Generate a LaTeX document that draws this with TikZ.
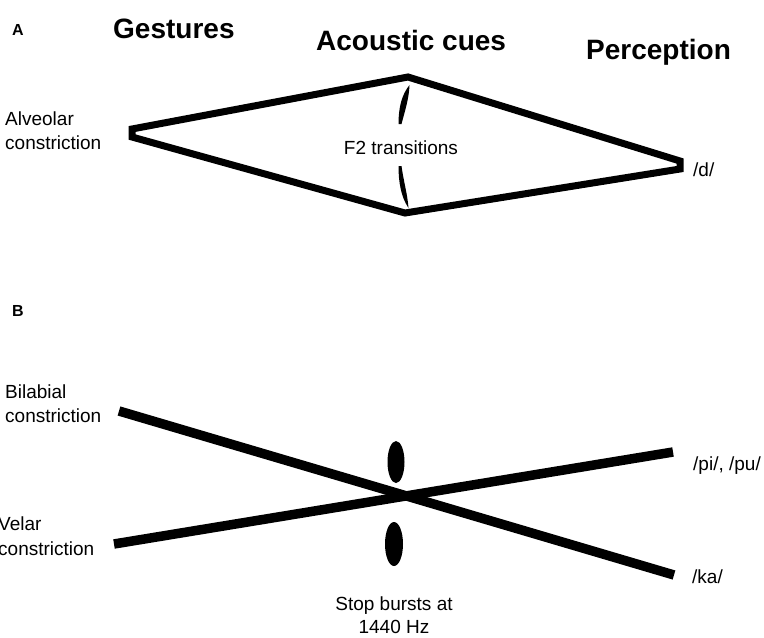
\documentclass[tikz,border=0pt]{standalone}
\usepackage{fontspec}
\setmainfont{Liberation Sans}
\begin{document}
\begin{tikzpicture}[x=1pt,y=-1pt,
  head/.style={font=\fontsize{28}{30}\selectfont\bfseries, anchor=base west, inner sep=0pt},
  panel/.style={font=\fontsize{16}{18}\selectfont\bfseries, anchor=base west, inner sep=0pt},
  lbl/.style={font=\fontsize{19}{24}\selectfont, anchor=base west, inner sep=0pt, align=left},
  path thin/.style={line width=7pt, line join=miter},
  path thick/.style={line width=9.5pt, line cap=butt}]
\useasboundingbox (0,0) rectangle (764,638);

% headings
\node[panel] (A) at (12,35) {A};
\node[head] (gest) at (113,38) {Gestures};
\node[head] (acou) at (316,50) {Acoustic cues};
\node[head] (perc) at (586,59) {Perception};

% ---- panel A: alveolar diamond ----
\coordinate (aL1) at (132,129);
\coordinate (aL2) at (132,137);
\coordinate (aT) at (408,77);
\coordinate (aR1) at (680,161);
\coordinate (aR2) at (680,169);
\coordinate (aB) at (405,213);
\draw[path thin] (aL1) -- (aT) -- (aR1) -- (aR2) -- (aB) -- (aL2) -- cycle;

\node[lbl] (alv) at (5,125) {Alveolar};
\node[lbl] (alvc) at (5,149) {constriction};
\node[lbl] (dd) at (693,176) {/d/};
\node[lbl, anchor=base] (f2) at (401,154) {F2 transitions};

% tapered arrows towards the two vertices
\fill (398.5,124) .. controls (398.5,108) and (401.5,95) .. (409.5,85)
      .. controls (409,98) and (405.5,109) .. (401.5,124) -- cycle;
\fill (398.5,166) .. controls (398.5,182) and (401,197) .. (408.5,208)
      .. controls (407.5,194) and (403.5,181) .. (401.5,166) -- cycle;

% ---- panel B: crossing lines ----
\node[panel] (B) at (12,316) {B};
\coordinate (bil) at (119,411);
\coordinate (ka) at (674,575);
\coordinate (vel) at (114,544);
\coordinate (pi) at (673,452);
\draw[path thick] (bil) -- (ka);
\draw[path thick] (vel) -- (pi);

\fill (396,462) ellipse (8.5pt and 21pt);
\fill (394,544) ellipse (9pt and 22pt);

\node[lbl] (bl1) at (5,398) {Bilabial};
\node[lbl] (bl2) at (5,422) {constriction};
\node[lbl] (vl1) at (-2,530) {Velar};
\node[lbl] (vl2) at (-2,555) {constriction};
\node[lbl] (pipu) at (693,470) {/pi/, /pu/};
\node[lbl] (kaa) at (692,583) {/ka/};
\node[lbl, anchor=base] (sb1) at (394,610) {Stop bursts at};
\node[lbl, anchor=base] (sb2) at (394,633) {1440 Hz};
\end{tikzpicture}
\end{document}
